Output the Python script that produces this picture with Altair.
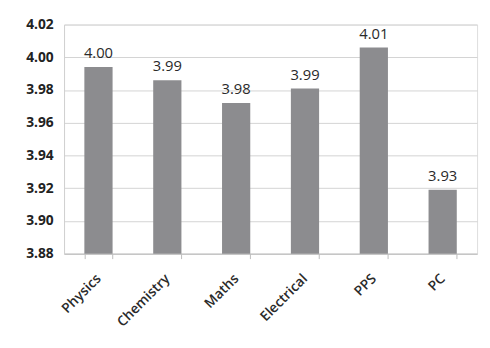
import altair as alt
import pandas as pd

subjects = ["Physics", "Chemistry", "Maths", "Electrical", "PPS", "PC"]
values = [3.994, 3.986, 3.972, 3.981, 4.006, 3.919]
labels = ["4.00", "3.99", "3.98", "3.99", "4.01", "3.93"]
y_ticks = [3.88, 3.90, 3.92, 3.94, 3.96, 3.98, 4.00, 4.02]

df = pd.DataFrame({"subject": subjects, "value": values, "label": labels})

FONT = "Open Sans"

x = alt.X(
    "subject:N",
    sort=subjects,
    scale=alt.Scale(paddingInner=0.59, paddingOuter=0.295),
    axis=alt.Axis(
        title=None,
        labelAngle=-45,
        labelFont=FONT,
        labelFontSize=14,
        labelFontWeight=600,
        labelColor="#2a2a2a",
        labelPadding=13,
        labelOffset=-5,
        domainColor="#bdbdbd",
        tickColor="#bdbdbd",
        tickBand="extent",
        tickSize=5,
        grid=False,
    ),
)

y = alt.Y(
    "value:Q",
    scale=alt.Scale(domain=[3.88, 4.02], zero=False, nice=False, clamp=True),
    axis=alt.Axis(
        title=None,
        values=y_ticks,
        format=".2f",
        labelFont=FONT,
        labelFontSize=14,
        labelFontWeight="bold",
        labelColor="#222222",
        labelPadding=11,
        labelOverlap=False,
        ticks=False,
        domainColor="#d0d0d0",
        gridColor="#d3d3d3",
        gridWidth=1,
    ),
)

bars = alt.Chart(df).mark_bar(color="#8c8c8f").encode(x=x, y=y)

text = alt.Chart(df).mark_text(
    baseline="bottom", dy=-6, font=FONT, fontSize=15, color="#2a2a2a"
).encode(x=x, y=y, text="label:N")

chart = (
    alt.layer(bars, text)
    .properties(
        width=420,
        height=233,
        autosize=alt.AutoSizeParams(type="none"),
        padding={"left": 57, "top": 14, "right": 5, "bottom": 90},
    )
    .configure_view(stroke=None)
    .configure(background="white")
)

chart.save("out.html", embed_options={"renderer": "svg", "actions": False})
